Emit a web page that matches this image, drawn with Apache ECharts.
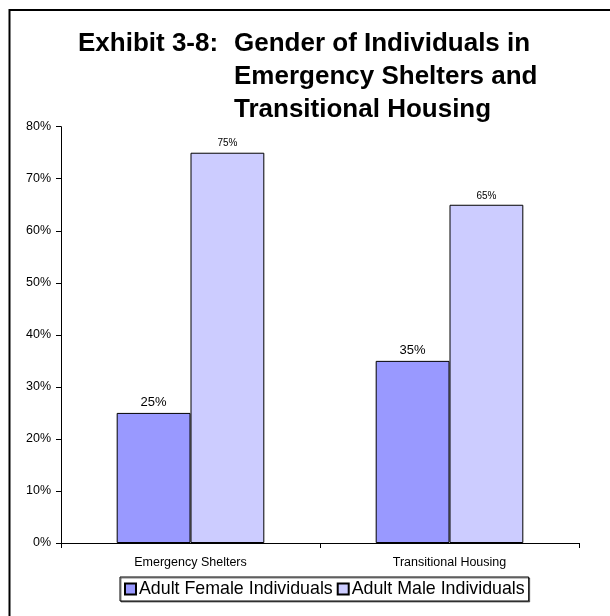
<!DOCTYPE html>
<html>
<head>
<meta charset="utf-8">
<script src="https://cdn.jsdelivr.net/npm/echarts@6/dist/echarts.min.js"></script>
<style>
  html, body { margin: 0; padding: 0; background: #fff; }
  #chart { width: 610px; height: 616px; }
</style>
</head>
<body>
<div id="chart"></div>
<script>
// categories and values (percent)
const categories = ['Emergency Shelters', 'Transitional Housing']
const femaleValues = [25, 35]
const maleValues = [75, 65]
const seriesNames = ['Adult Female Individuals', 'Adult Male Individuals']

const font = '"Liberation Sans", Arial, sans-serif'
const chart = echarts.init(document.getElementById('chart'))

chart.setOption({
  animation: false,
  backgroundColor: '#fff',
  title: [
    {
      text: 'Exhibit 3-8:',
      left: 78,
      top: 27,
      padding: 0,
      textStyle: { fontFamily: font, fontSize: 26, fontWeight: 'bold', color: '#000', lineHeight: 33 }
    },
    {
      text: 'Gender of Individuals in\nEmergency Shelters and\nTransitional Housing',
      left: 234,
      top: 27,
      padding: 0,
      textStyle: { fontFamily: font, fontSize: 26, fontWeight: 'bold', color: '#000', lineHeight: 33 }
    }
  ],
  graphic: [
    {
      type: 'polyline',
      shape: { points: [[9.5, 616], [9.5, 10], [610, 10]] },
      style: { stroke: '#000', lineWidth: 2, fill: null }
    }
  ],
  legend: {
    bottom: 15,
    left: 120,
    data: seriesNames,
    icon: 'rect',
    itemWidth: 11,
    itemHeight: 11,
    itemGap: 4,
    padding: [3, 4, 3, 4],
    borderColor: '#000',
    borderWidth: 1,
    backgroundColor: '#fff',
    shadowColor: 'rgba(0,0,0,0.5)',
    shadowOffsetX: 1,
    shadowOffsetY: 1,
    textStyle: { fontFamily: font, fontSize: 17.8, color: '#000', padding: [0, 0, 0, -2] }
  },
  grid: {
    left: 61,
    right: 31,
    top: 126.7,
    bottom: 73,
    containLabel: false
  },
  xAxis: {
    type: 'category',
    data: categories,
    axisLine: { lineStyle: { color: '#000', width: 1 } },
    axisTick: { show: true, length: 5, inside: false, lineStyle: { color: '#000' } },
    axisLabel: { fontFamily: font, fontSize: 12.5, color: '#000', margin: 13 }
  },
  yAxis: {
    type: 'value',
    min: 0,
    max: 80,
    interval: 10,
    splitLine: { show: false },
    axisLine: { show: true, lineStyle: { color: '#000', width: 1 } },
    axisTick: { show: true, length: 5, lineStyle: { color: '#000' } },
    axisLabel: { fontFamily: font, fontSize: 12.5, color: '#000', margin: 10, formatter: '{value}%' }
  },
  series: [
    {
      name: seriesNames[0],
      type: 'bar',
      data: femaleValues,
      barGap: '0%',
      barCategoryGap: '43%',
      itemStyle: { color: '#9999FF', borderColor: '#000', borderWidth: 1 },
      label: {
        show: true,
        position: 'top',
        distance: 4,
        formatter: '{c}%',
        fontFamily: font,
        fontSize: 13,
        color: '#000'
      }
    },
    {
      name: seriesNames[1],
      type: 'bar',
      data: maleValues,
      barGap: '0%',
      barCategoryGap: '43%',
      itemStyle: { color: '#CCCCFF', borderColor: '#000', borderWidth: 1 },
      label: {
        show: true,
        position: 'top',
        distance: 4,
        formatter: '{c}%',
        fontFamily: font,
        fontSize: 10,
        color: '#000'
      }
    }
  ]
})
</script>
</body>
</html>
